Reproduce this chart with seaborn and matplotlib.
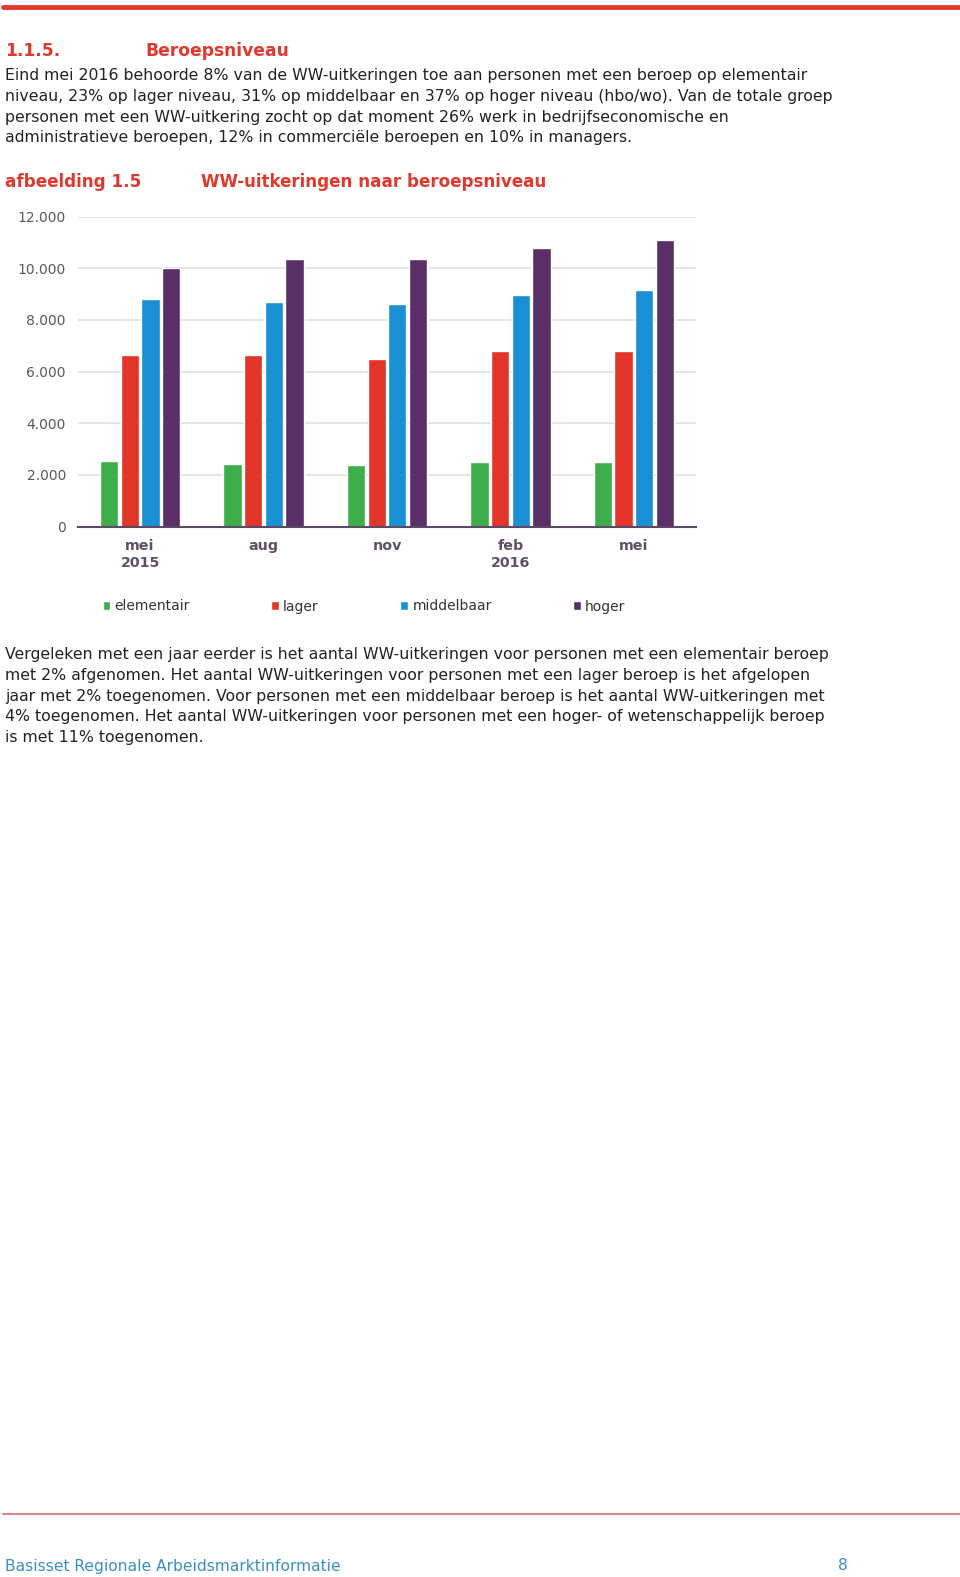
import matplotlib
matplotlib.use("Agg")
import matplotlib.pyplot as plt
from matplotlib.lines import Line2D
import seaborn as sns
import pandas as pd

periods = ["mei\n2015", "aug", "nov", "feb\n2016", "mei"]
levels = ["elementair", "lager", "middelbaar", "hoger"]
elementair = [2550, 2430, 2380, 2480, 2480]
lager = [6620, 6620, 6500, 6790, 6790]
middelbaar = [8800, 8690, 8630, 8970, 9150]
hoger = [10000, 10350, 10350, 10800, 11100]
yticks = [0, 2000, 4000, 6000, 8000, 10000, 12000]
ytick_labels = ["0", "2.000", "4.000", "6.000", "8.000", "10.000", "12.000"]
colors = ["#3dae49", "#e3342a", "#1b8fd3", "#5a2e66"]

rows = []
for lvl, vals in zip(levels, [elementair, lager, middelbaar, hoger]):
    for p, v in zip(periods, vals):
        rows.append({"periode": p, "niveau": lvl, "aantal": v})
df = pd.DataFrame(rows)

sns.set_style("white")
plt.rcParams["font.family"] = ["DejaVu Sans"]

W, H = 960, 1577
fig = plt.figure(figsize=(W / 100, H / 100), dpi=100)

def px(x, y):
    return x / W, 1 - y / H

RED = "#e0392e"

def T(x, y, s, **kw):
    fx, fy = px(x, y)
    kw.setdefault("va", "center")
    kw.setdefault("ha", "left")
    fig.text(fx, fy, s, **kw)

# top red line
fig.add_artist(Line2D([3 / W, 1], [1 - 7 / H] * 2, color=RED, lw=3.5, transform=fig.transFigure))

T(5, 50.5, "1.1.5.", color=RED, fontsize=12.3, fontweight="bold")
T(145, 50.5, "Beroepsniveau", color=RED, fontsize=12.3, fontweight="bold")

body_top = [
    "Eind mei 2016 behoorde 8% van de WW-uitkeringen toe aan personen met een beroep op elementair",
    "niveau, 23% op lager niveau, 31% op middelbaar en 37% op hoger niveau (hbo/wo). Van de totale groep",
    "personen met een WW-uitkering zocht op dat moment 26% werk in bedrijfseconomische en",
    "administratieve beroepen, 12% in commerciële beroepen en 10% in managers.",
]
for i, line in enumerate(body_top):
    T(5, 75.5 + i * 20.8, line, color="#222222", fontsize=11.38)

T(5, 182, "afbeelding 1.5", color=RED, fontsize=12.1, fontweight="bold")
T(201, 182, "WW-uitkeringen naar beroepsniveau", color=RED, fontsize=12.1, fontweight="bold")

# chart axes
left, right = 78.4, 695.6
top, bottom = 216.5, 526.5
ax = fig.add_axes([left / W, 1 - bottom / H, (right - left) / W, (bottom - top) / H])
sns.barplot(data=df, x="periode", y="aantal", hue="niveau", order=periods, hue_order=levels,
            palette=colors, width=0.67, gap=0.12, ax=ax, errorbar=None, saturation=1)
ax.set_ylim(0, 12000)
ax.set_xlim(-0.5, len(periods) - 0.5)
ax.set_yticks(yticks)
ax.set_yticklabels(ytick_labels, color="#5a5a5a", fontsize=10)
ax.yaxis.grid(True, color="#e2e2e2", lw=1.2)
ax.set_axisbelow(True)
for s in ["top", "right", "left"]:
    ax.spines[s].set_visible(False)
ax.spines["bottom"].set_color("#5b4a66")
ax.spines["bottom"].set_linewidth(1.5)
ax.tick_params(axis="y", length=0, pad=9)
ax.tick_params(axis="x", length=0, pad=9)
for lab in ax.get_xticklabels():
    lab.set_fontweight("bold")
    lab.set_color("#5e5262")
    lab.set_fontsize(10.3)
    lab.set_linespacing(1.25)
ax.set_xlabel("")
ax.set_ylabel("")

sns.move_legend(ax, loc="center left", bbox_to_anchor=((102.5 - left) / (right - left), (bottom - 606.5) / (bottom - top)),
                ncol=4, frameon=False, title=None, fontsize=10, handlelength=0.55, handleheight=0.55,
                handletextpad=0.3, columnspacing=5.88, borderpad=0, borderaxespad=0)
for t in ax.get_legend().get_texts():
    t.set_color("#333333")

body_bottom = [
    "Vergeleken met een jaar eerder is het aantal WW-uitkeringen voor personen met een elementair beroep",
    "met 2% afgenomen. Het aantal WW-uitkeringen voor personen met een lager beroep is het afgelopen",
    "jaar met 2% toegenomen. Voor personen met een middelbaar beroep is het aantal WW-uitkeringen met",
    "4% toegenomen. Het aantal WW-uitkeringen voor personen met een hoger- of wetenschappelijk beroep",
    "is met 11% toegenomen.",
]
for i, line in enumerate(body_bottom):
    T(5, 654.5 + i * 20.8, line, color="#222222", fontsize=11.33)

# footer
fig.add_artist(Line2D([3 / W, 1], [1 - 1514 / H] * 2, color="#d48a88", lw=1.5, transform=fig.transFigure))
T(5, 1566, "Basisset Regionale Arbeidsmarktinformatie", color="#3b8fc4", fontsize=11.2)
T(843, 1566, "8", color="#3b8fc4", fontsize=11.2, ha="center")

fig.savefig("out.png", dpi=100)
